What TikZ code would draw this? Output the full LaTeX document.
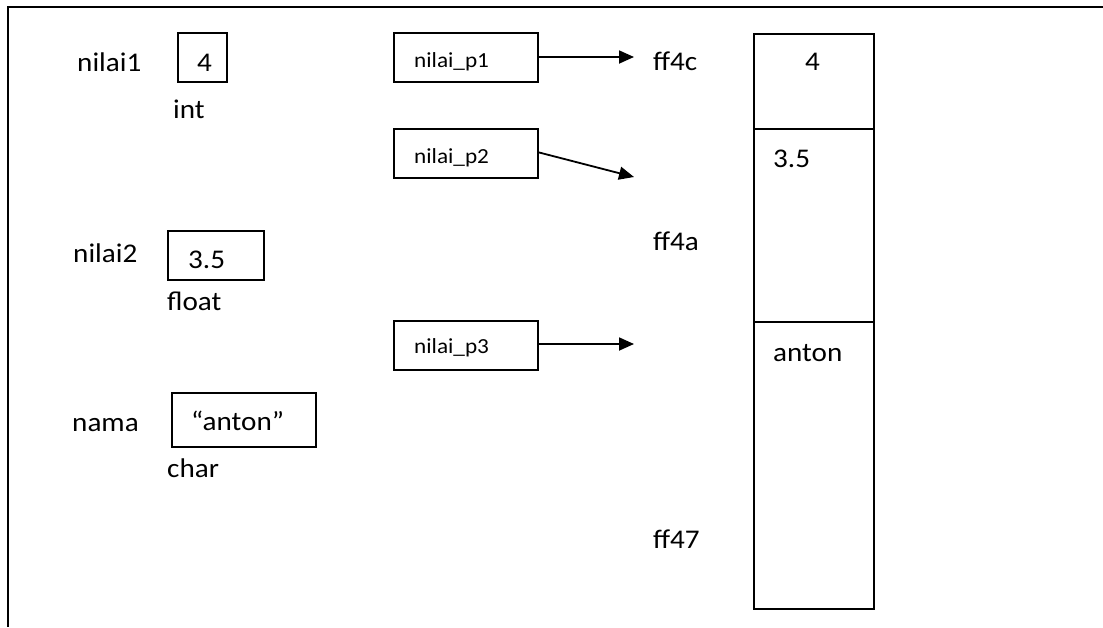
\documentclass[tikz,border=0pt]{standalone}
\usepackage{fontspec}
\setmainfont{Carlito}[FakeStretch=1.08]
\usetikzlibrary{arrows.meta}
\begin{document}
\begin{tikzpicture}[x=1pt,y=-1pt,
  lbl/.style={inner sep=0pt,anchor=base west,font=\fontsize{27}{30}\selectfont},
  small/.style={inner sep=0pt,anchor=base west,font=\fontsize{21.5}{24}\selectfont},
  cell/.style={draw,line width=1.8pt,inner sep=0pt,anchor=north west},
  ptr/.style={line width=1.8pt,-{Triangle[length=15pt,width=13pt]}}]
  \useasboundingbox (0,0) rectangle (1103,627);
  % open frame: top and left edges only
  \coordinate (fTL) at (8,7);
  \coordinate (fTR) at (1103,7);
  \coordinate (fBL) at (8,627);
  \draw[line width=2.4pt] (fTR) -- (fTL) -- (fBL);

  % variables with their values and types
  \node[lbl] (n1) at (77,71) {nilai1};
  \node[cell,minimum width=49pt,minimum height=49pt] (b1) at (177,32) {};
  \node[lbl] (v1) at (197,71) {4};
  \node[lbl] (ty1) at (173,118) {int};

  \node[lbl] (n2) at (73,262) {nilai2};
  \node[cell,minimum width=96pt,minimum height=49pt] (b2) at (167,230) {};
  \node[lbl] (v2) at (188,268) {3.5};
  \node[lbl] (ty2) at (167,310) {float};

  \node[lbl] (n3) at (72,431) {nama};
  \node[cell,minimum width=144pt,minimum height=54pt] (b3) at (171,392) {};
  \node[lbl] (v3) at (191,430) {“anton”};
  \node[lbl] (ty3) at (167,477) {char};

  % pointer variables
  \node[cell,minimum width=144pt,minimum height=49pt] (p1) at (393,32) {};
  \node[small] (p1t) at (414,67) {nilai\_p1};
  \node[cell,minimum width=144pt,minimum height=49pt] (p2) at (393,128) {};
  \node[small] (p2t) at (414,163) {nilai\_p2};
  \node[cell,minimum width=144pt,minimum height=49pt] (p3) at (393,320) {};
  \node[small] (p3t) at (414,353) {nilai\_p3};

  \coordinate (a1) at (634,57);
  \coordinate (a2) at (634,177);
  \coordinate (a3) at (634,344);
  \draw[ptr] (p1.east |- a1) -- (a1);
  \draw[ptr] (p2.east) ++(0,-1) coordinate (p2s) (p2s) -- (a2);
  \draw[ptr] (p3.east |- a3) -- (a3);

  % addresses
  \node[lbl] (ad1) at (653,70) {ff4c};
  \node[lbl] (ad2) at (653,250) {ff4a};
  \node[lbl] (ad3) at (653,548) {ff47};

  % memory cells
  \node[cell,minimum width=120pt,minimum height=95pt] (m1) at (753,33) {};
  \node[cell,minimum width=120pt,minimum height=193pt] (m2) at (753,128) {};
  \node[cell,minimum width=120pt,minimum height=287pt] (m3) at (753,321) {};
  \node[lbl] (mv1) at (805,70) {4};
  \node[lbl] (mv2) at (773,167) {3.5};
  \node[lbl] (mv3) at (773,361) {anton};
\end{tikzpicture}
\end{document}
